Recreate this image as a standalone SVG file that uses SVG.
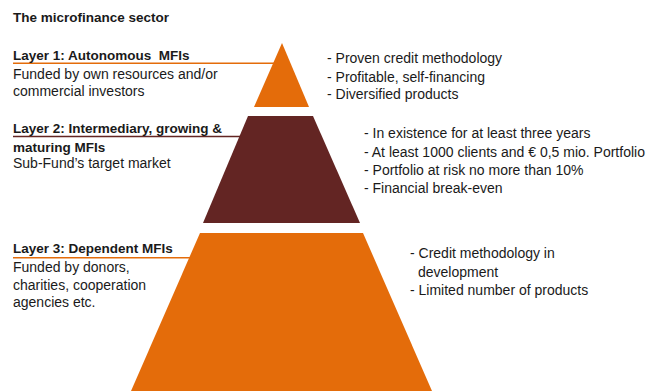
<svg xmlns="http://www.w3.org/2000/svg" width="655" height="391" viewBox="0 0 655 391">
<style>
text{font-family:"Liberation Sans",Arial,sans-serif;fill:#1a1a1a;font-size:14px}
.b{font-weight:bold;font-size:13.5px;white-space:pre}
</style>
<rect width="655" height="391" fill="#fff"/>
<text class="b" x="13" y="22">The microfinance sector</text>
<g id="layer1">
<polygon points="282,43 254,107 309,107" fill="#E46C0A"/>
<line x1="13" y1="63.3" x2="276" y2="63.3" stroke="#E46C0A" stroke-width="1.6"/>
<text class="b" x="13" y="59.5" xml:space="preserve">Layer 1: Autonomous  MFIs</text>
<text x="13" y="78.5">Funded by own resources and/or</text>
<text x="13" y="96">commercial investors</text>
<text x="327" y="63">- Proven credit methodology</text>
<text x="327" y="81.5">- Profitable, self-financing</text>
<text x="327" y="99">- Diversified products</text>
</g>
<g id="layer2">
<polygon points="248,116 313,116 360,223 203,223" fill="#632523"/>
<line x1="13" y1="136.5" x2="241" y2="136.5" stroke="#632523" stroke-width="1.6"/>
<text class="b" x="13" y="133">Layer 2: Intermediary, growing &amp;</text>
<text class="b" x="13" y="151.5">maturing MFIs</text>
<text x="13" y="168">Sub-Fund’s target market</text>
<text x="364" y="138">- In existence for at least three years</text>
<text x="364" y="156.5">- At least 1000 clients and € 0,5 mio. Portfolio</text>
<text x="364" y="174.5">- Portfolio at risk no more than 10%</text>
<text x="364" y="193">- Financial break-even</text>
</g>
<g id="layer3">
<polygon points="200,233 363,233 432,391 131,391" fill="#E46C0A"/>
<line x1="13" y1="257.7" x2="190" y2="257.7" stroke="#E46C0A" stroke-width="1.6"/>
<text class="b" x="13" y="253.3">Layer 3: Dependent MFIs</text>
<text x="13" y="272.3">Funded by donors,</text>
<text x="13" y="290">charities, cooperation</text>
<text x="13" y="307">agencies etc.</text>
<text x="410" y="258.3">- Credit methodology in</text>
<text x="418" y="276.5">development</text>
<text x="410" y="295">- Limited number of products</text>
</g>
<g id="connectors"></g>
</svg>
